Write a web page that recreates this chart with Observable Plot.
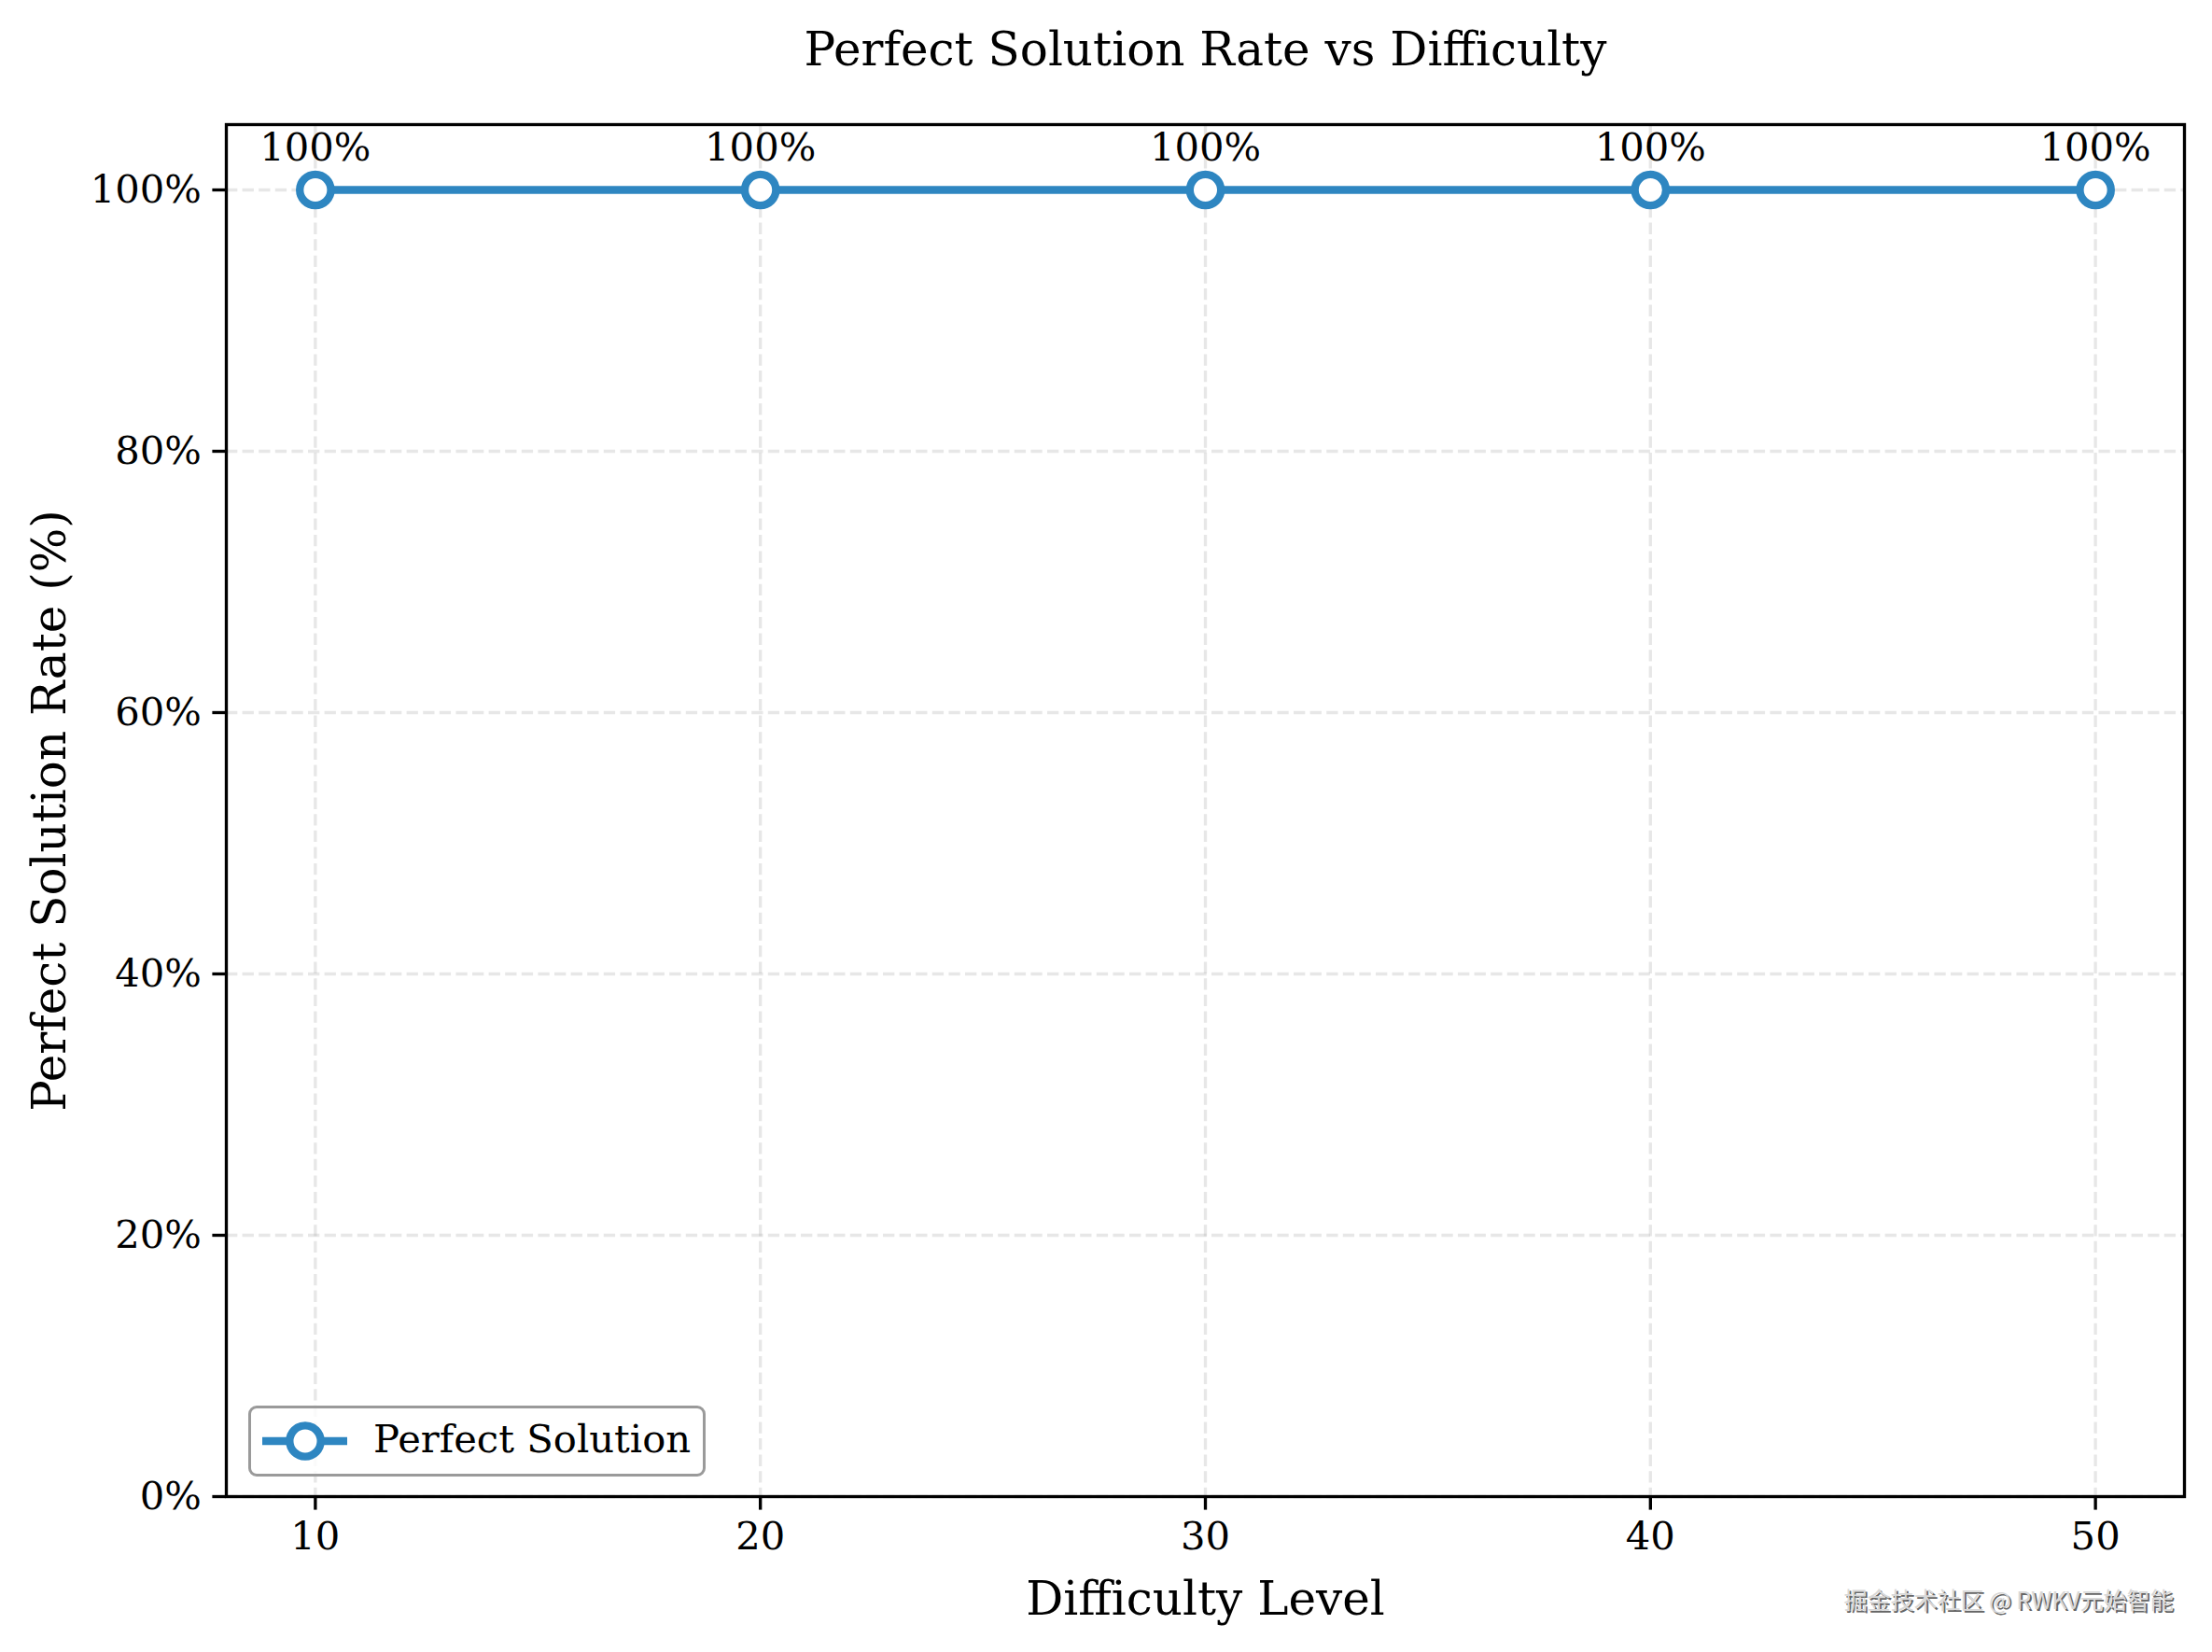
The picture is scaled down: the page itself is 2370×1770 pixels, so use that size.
<!DOCTYPE html>
<html>
<head>
<meta charset="utf-8">
<script src="https://cdn.jsdelivr.net/npm/d3@7"></script>
<script src="https://cdn.jsdelivr.net/npm/@observablehq/plot@0.6"></script>
<style>
  html, body { margin: 0; padding: 0; background: white; }
  #wrap { position: relative; width: 2370px; height: 1770px; }
  #legend {
    position: absolute; left: 266px; top: 1506px; width: 484px; height: 70px;
    border: 3.3px solid #9a9a9a; border-radius: 9px; background: rgba(255,255,255,0.8);
    font-family: "DejaVu Serif"; font-size: 41.7px; color: black;
  }
  #legend svg { position: absolute; left: 8px; top: 0px; }
  #legend span { position: absolute; left: 131px; top: 8px; white-space: nowrap; }
</style>
</head>
<body>
<div id="wrap"></div>
<script>
const difficulty = [10, 20, 30, 40, 50];
const perfectRate = [100, 100, 100, 100, 100];
const xTicks = [10, 20, 30, 40, 50];
const yTicks = [0, 20, 40, 60, 80, 100];
const seriesName = "Perfect Solution";
const titleText = "Perfect Solution Rate vs Difficulty";
const xLabel = "Difficulty Level";
const yLabel = "Perfect Solution Rate (%)";
const watermark = "掘金技术社区 @ RWKV元始智能";

const blue = "#2E86C1";
const data = difficulty.map((d, i) => ({difficulty: d, rate: perfectRate[i]}));

const grid = {stroke: "#b0b0b0", strokeOpacity: 0.3, strokeWidth: 3.33, strokeDasharray: "12.3,5.3"};

const chart = Plot.plot({
  width: 2370,
  height: 1770,
  marginLeft: 242,
  marginRight: 30,
  marginTop: 133,
  marginBottom: 167,
  style: {fontFamily: "DejaVu Serif", background: "white", color: "black"},
  x: {domain: [8, 52]},
  y: {domain: [0, 105]},
  marks: [
    Plot.gridX(xTicks, grid),
    Plot.gridY(yTicks, grid),
    Plot.axisX({ticks: xTicks, tickSize: 14.6, tickPadding: 12, fontSize: 41.7, strokeWidth: 3.33, label: null}),
    Plot.axisY({ticks: yTicks, tickSize: 14.6, tickPadding: 12, fontSize: 41.7, strokeWidth: 3.33, label: null, tickFormat: d => d + "%"}),
    Plot.line(data, {x: "difficulty", y: "rate", stroke: blue, strokeWidth: 8.33}),
    Plot.dot(data, {x: "difficulty", y: "rate", r: 16.67, fill: "white", stroke: blue, strokeWidth: 8.33}),
    Plot.text(data, {x: "difficulty", y: "rate", text: d => d.rate + "%", fontSize: 41.7, lineAnchor: "bottom", dy: -32, fill: "black"}),
    Plot.frame({stroke: "black", strokeWidth: 3.33}),
    Plot.text([titleText], {frameAnchor: "top", dy: -80, lineAnchor: "middle", fontSize: 50, fill: "black"}),
    Plot.text([xLabel], {frameAnchor: "bottom", dy: 110, lineAnchor: "middle", fontSize: 50, fill: "black"}),
    Plot.text([yLabel], {frameAnchor: "left", textAnchor: "middle", dx: -189, rotate: -90, lineAnchor: "middle", fontSize: 50, fill: "black"}),
    Plot.text([watermark], {frameAnchor: "bottom-right", textAnchor: "end", dx: -10, dy: 114, lineAnchor: "middle", fontSize: 25, fontFamily: "Noto Sans CJK SC", fill: "#666"}),
    Plot.text([watermark], {frameAnchor: "bottom-right", textAnchor: "end", dx: -12, dy: 112, lineAnchor: "middle", fontSize: 25, fontFamily: "Noto Sans CJK SC", fill: "#d8d8d8"})
  ]
});

const wrap = document.getElementById("wrap");
wrap.appendChild(chart);

const legend = document.createElement("div");
legend.id = "legend";
legend.innerHTML = `<svg width="100" height="70"><line x1="4" y1="35" x2="95" y2="35" stroke="${blue}" stroke-width="8.33"/><circle cx="50" cy="35" r="16.67" fill="white" stroke="${blue}" stroke-width="8.33"/></svg><span>${seriesName}</span>`;
wrap.appendChild(legend);
</script>
</body>
</html>
